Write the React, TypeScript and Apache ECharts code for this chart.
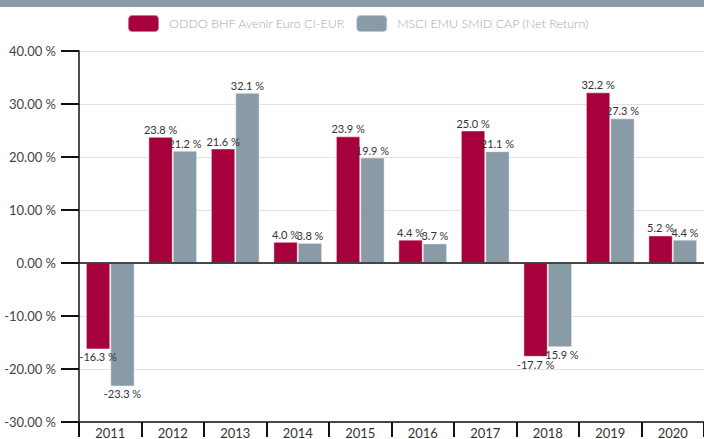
import React, { useEffect, useRef } from "react";
import * as echarts from "echarts";

const categories = ["2011", "2012", "2013", "2014", "2015", "2016", "2017", "2018", "2019", "2020"];
const fundName = "ODDO BHF Avenir Euro CI-EUR";
const indexName = "MSCI EMU SMID CAP (Net Return)";
const fundValues = [-16.3, 23.8, 21.6, 4.0, 23.9, 4.4, 25.0, -17.7, 32.2, 5.2];
const indexValues = [-23.3, 21.2, 32.1, 3.8, 19.9, 3.7, 21.1, -15.9, 27.3, 4.4];
const yMin = -30;
const yMax = 40;
const yStep = 10;

const FONT = "Lato, 'Open Sans', sans-serif";

function toData(values: number[]) {
  return values.map((v) => ({
    value: v,
    label: { position: v < 0 ? "bottom" : "top" },
  }));
}

export default function App() {
  const ref = useRef<HTMLDivElement>(null);
  useEffect(() => {
    document.body.style.margin = "0";
    if (!ref.current) return;
    const chart = echarts.init(ref.current, null, { renderer: "svg" });
    const labelCfg = {
      show: true,
      formatter: (p: any) => p.value.toFixed(1) + " %",
      color: "#333",
      fontSize: 11,
      fontFamily: FONT,
      distance: 2,
    };
    chart.setOption({
      animation: false,
      textStyle: { fontFamily: FONT },
      graphic: [
        {
          type: "rect",
          shape: { x: 0, y: 0, width: 704, height: 7 },
          style: { fill: "#8b9ba7" },
          silent: true,
        },
      ],
      legend: {
        left: 122,
        top: 9,
        itemWidth: 31,
        itemHeight: 17,
        itemGap: 10,
        icon: "roundRect",
        textStyle: {
          color: "#a3aab1",
          fontSize: 12.5,
          fontWeight: 300,
          fontFamily: FONT,
          padding: [0, 0, 0, 5],
        },
        data: [fundName, indexName],
      },
      grid: { left: 79, top: 51, width: 628, bottom: 15, containLabel: false },
      xAxis: {
        type: "category",
        data: categories,
        axisLine: { onZero: false, lineStyle: { color: "#111", width: 1.5 } },
        axisTick: { show: true, length: 15, lineStyle: { color: "#111", width: 2 } },
        axisLabel: { color: "#333", fontSize: 13, margin: 4, fontFamily: FONT },
      },
      yAxis: {
        type: "value",
        min: yMin,
        max: yMax,
        interval: yStep,
        axisLine: { show: true, lineStyle: { color: "#111", width: 1.5 } },
        axisTick: { show: true, length: 18, lineStyle: { color: "#111", width: 2 } },
        axisLabel: {
          color: "#444",
          fontSize: 13,
          margin: 23,
          fontFamily: FONT,
          formatter: (v: number) => v.toFixed(2) + " %",
        },
        splitLine: { lineStyle: { color: "#e2e2e2", width: 1 } },
      },
      series: [
        {
          name: fundName,
          type: "bar",
          data: toData(fundValues),
          barGap: "0%",
          barCategoryGap: "22%",
          itemStyle: { color: "#a6003d", borderColor: "rgba(255,255,255,0.45)", borderWidth: 1 },
          label: labelCfg,
          markLine: {
            silent: true,
            symbol: "none",
            label: { show: false },
            lineStyle: { color: "#111", width: 1.5, type: "solid" },
            data: [{ yAxis: 0 }],
          },
        },
        {
          name: indexName,
          type: "bar",
          data: toData(indexValues),
          barGap: "0%",
          barCategoryGap: "22%",
          itemStyle: { color: "#8a9ba8", borderColor: "rgba(255,255,255,0.45)", borderWidth: 1 },
          label: labelCfg,
        },
      ],
    });
    return () => chart.dispose();
  }, []);
  return <div ref={ref} style={{ width: 704, height: 439 }} />;
}
